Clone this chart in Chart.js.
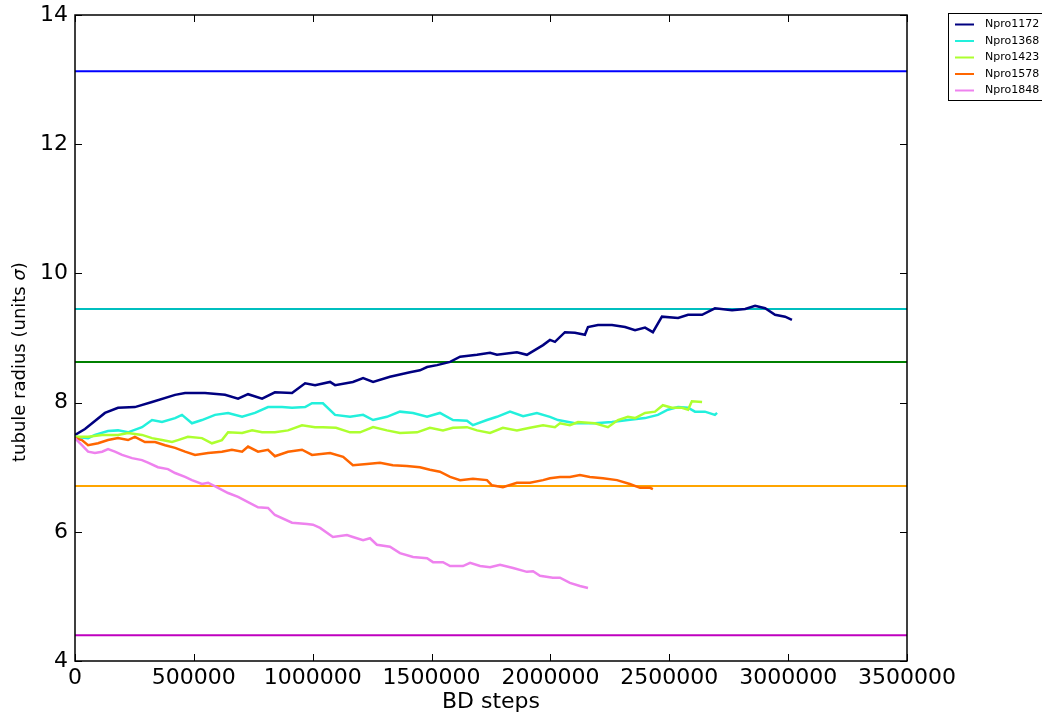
<!DOCTYPE html>
<html>
<head>
<meta charset="utf-8">
<script src="https://cdn.jsdelivr.net/npm/chart.js@4.4.1/dist/chart.umd.min.js"></script>
<style>
  html, body { margin: 0; padding: 0; background: #ffffff; }
  #wrap { width: 1042px; height: 713px; }
</style>
</head>
<body>
<div id="wrap"><canvas id="c" width="1042" height="713"></canvas></div>
<script>
// ---------------- DATA ----------------
const seriesLabels = ["Npro1172", "Npro1368", "Npro1423", "Npro1578", "Npro1848"];

const npro1172Steps = [0, 42000, 126000, 181000, 252000, 324000, 421000, 463000, 547000, 631000, 686000, 728000, 787000, 841000, 913000, 968000, 1010000, 1073000, 1094000, 1169000, 1212000, 1254000, 1325000, 1409000, 1451000, 1481000, 1523000, 1578000, 1620000, 1691000, 1746000, 1775000, 1859000, 1901000, 1969000, 1998000, 2019000, 2061000, 2103000, 2145000, 2158000, 2200000, 2259000, 2314000, 2356000, 2398000, 2431000, 2469000, 2537000, 2579000, 2638000, 2692000, 2764000, 2819000, 2861000, 2903000, 2945000, 2987000, 3016000];
const npro1172Radius = [7.50, 7.59, 7.84, 7.92, 7.93, 8.01, 8.12, 8.15, 8.15, 8.12, 8.06, 8.13, 8.06, 8.16, 8.15, 8.30, 8.27, 8.32, 8.27, 8.32, 8.38, 8.32, 8.40, 8.47, 8.50, 8.55, 8.58, 8.63, 8.71, 8.74, 8.77, 8.74, 8.78, 8.74, 8.89, 8.97, 8.94, 9.09, 9.08, 9.05, 9.17, 9.20, 9.20, 9.17, 9.12, 9.16, 9.09, 9.33, 9.31, 9.36, 9.36, 9.46, 9.43, 9.45, 9.50, 9.46, 9.36, 9.33, 9.28];

const npro1368Steps = [0, 55000, 84000, 139000, 181000, 223000, 282000, 324000, 366000, 421000, 450000, 492000, 534000, 589000, 644000, 703000, 757000, 812000, 871000, 913000, 968000, 997000, 1043000, 1094000, 1157000, 1212000, 1254000, 1312000, 1367000, 1422000, 1481000, 1535000, 1590000, 1649000, 1674000, 1733000, 1775000, 1830000, 1885000, 1943000, 1998000, 2032000, 2103000, 2187000, 2259000, 2326000, 2398000, 2452000, 2494000, 2537000, 2579000, 2608000, 2650000, 2692000, 2701000];
const npro1368Radius = [7.47, 7.45, 7.50, 7.56, 7.57, 7.54, 7.62, 7.73, 7.70, 7.76, 7.81, 7.68, 7.73, 7.81, 7.84, 7.78, 7.84, 7.93, 7.93, 7.92, 7.93, 7.99, 7.99, 7.81, 7.78, 7.81, 7.73, 7.78, 7.86, 7.84, 7.78, 7.84, 7.73, 7.72, 7.65, 7.73, 7.78, 7.86, 7.79, 7.84, 7.78, 7.73, 7.68, 7.68, 7.70, 7.73, 7.76, 7.81, 7.89, 7.93, 7.92, 7.86, 7.86, 7.81, 7.84];

const npro1423Steps = [0, 55000, 114000, 181000, 223000, 282000, 324000, 366000, 408000, 433000, 475000, 534000, 576000, 618000, 644000, 703000, 745000, 787000, 841000, 896000, 955000, 1010000, 1043000, 1098000, 1157000, 1199000, 1254000, 1312000, 1367000, 1439000, 1493000, 1548000, 1590000, 1649000, 1691000, 1746000, 1800000, 1859000, 1914000, 1969000, 2019000, 2040000, 2082000, 2116000, 2187000, 2242000, 2284000, 2326000, 2356000, 2398000, 2440000, 2473000, 2511000, 2553000, 2579000, 2595000, 2638000];
const npro1423Radius = [7.47, 7.47, 7.50, 7.50, 7.53, 7.50, 7.45, 7.42, 7.39, 7.42, 7.47, 7.45, 7.37, 7.42, 7.54, 7.53, 7.57, 7.54, 7.54, 7.57, 7.65, 7.62, 7.62, 7.61, 7.54, 7.54, 7.62, 7.57, 7.53, 7.54, 7.61, 7.57, 7.61, 7.62, 7.57, 7.53, 7.61, 7.57, 7.61, 7.65, 7.62, 7.68, 7.65, 7.70, 7.68, 7.62, 7.73, 7.78, 7.76, 7.84, 7.86, 7.96, 7.92, 7.92, 7.89, 8.02, 8.01];

const npro1578Steps = [0, 29000, 55000, 97000, 139000, 181000, 223000, 252000, 294000, 337000, 379000, 421000, 463000, 505000, 560000, 618000, 660000, 703000, 728000, 770000, 812000, 841000, 896000, 955000, 997000, 1073000, 1128000, 1169000, 1228000, 1283000, 1337000, 1396000, 1451000, 1493000, 1535000, 1578000, 1620000, 1674000, 1733000, 1754000, 1800000, 1859000, 1914000, 1969000, 1998000, 2040000, 2082000, 2124000, 2166000, 2221000, 2280000, 2334000, 2377000, 2419000, 2431000];
const npro1578Radius = [7.45, 7.42, 7.34, 7.37, 7.42, 7.45, 7.42, 7.47, 7.39, 7.39, 7.34, 7.30, 7.24, 7.19, 7.22, 7.24, 7.27, 7.24, 7.32, 7.24, 7.27, 7.17, 7.24, 7.27, 7.19, 7.22, 7.16, 7.03, 7.05, 7.07, 7.03, 7.02, 7.00, 6.96, 6.93, 6.85, 6.80, 6.82, 6.80, 6.72, 6.69, 6.76, 6.76, 6.80, 6.83, 6.85, 6.85, 6.88, 6.85, 6.83, 6.80, 6.74, 6.68, 6.68, 6.66];

const npro1848Steps = [0, 29000, 55000, 84000, 114000, 139000, 168000, 198000, 240000, 282000, 307000, 349000, 391000, 421000, 463000, 492000, 534000, 560000, 602000, 644000, 686000, 728000, 770000, 812000, 841000, 913000, 976000, 1001000, 1031000, 1085000, 1144000, 1169000, 1212000, 1241000, 1270000, 1325000, 1367000, 1422000, 1481000, 1506000, 1548000, 1578000, 1632000, 1662000, 1704000, 1746000, 1788000, 1843000, 1901000, 1927000, 1956000, 2010000, 2040000, 2082000, 2124000, 2158000];
const npro1848Radius = [7.45, 7.34, 7.24, 7.22, 7.24, 7.28, 7.24, 7.19, 7.14, 7.11, 7.07, 7.00, 6.97, 6.91, 6.85, 6.80, 6.74, 6.76, 6.68, 6.60, 6.54, 6.46, 6.38, 6.37, 6.26, 6.14, 6.12, 6.11, 6.06, 5.92, 5.95, 5.92, 5.87, 5.90, 5.80, 5.77, 5.67, 5.61, 5.59, 5.53, 5.53, 5.47, 5.47, 5.52, 5.47, 5.45, 5.49, 5.44, 5.38, 5.39, 5.32, 5.29, 5.29, 5.21, 5.16, 5.13];

// reference (horizontal) radii
const refRadii = [13.13, 9.45, 8.63, 6.71, 4.40];
const refColors = ["#0000ff", "#00bfbf", "#008000", "#ffa500", "#bf00bf"];
const seriesColors = ["#000080", "#22f0dc", "#adff2f", "#ff6600", "#ee82ee"];

// axis ticks and labels
const xTicks = [0, 500000, 1000000, 1500000, 2000000, 2500000, 3000000, 3500000];
const yTicks = [4, 6, 8, 10, 12, 14];
const xLabel = "BD steps";
const yLabelParts = ["tubule radius (units ", "σ", ")"];

// ---------------- BUILD ----------------
const stepArrays = [npro1172Steps, npro1368Steps, npro1423Steps, npro1578Steps, npro1848Steps];
const radiusArrays = [npro1172Radius, npro1368Radius, npro1423Radius, npro1578Radius, npro1848Radius];

const datasets = [];
refRadii.forEach((r, i) => {
  datasets.push({
    label: "ref" + i,
    isRef: true,
    data: [{x: xTicks[0], y: r}, {x: xTicks[xTicks.length - 1], y: r}],
    borderColor: refColors[i],
    borderWidth: 2,
    pointRadius: 0,
    fill: false,
    order: 10
  });
});
seriesLabels.forEach((lab, i) => {
  datasets.push({
    label: lab,
    data: stepArrays[i].map((s, k) => ({x: s, y: radiusArrays[i][k]})),
    borderColor: seriesColors[i],
    borderWidth: 2.5,
    pointRadius: 0,
    tension: 0,
    fill: false,
    order: 5 - i
  });
});

const FONT = "'DejaVu Sans', sans-serif";

const framePlugin = {
  id: 'frame',
  afterDraw(chart) {
    const ctx = chart.ctx;
    const a = chart.chartArea;
    const xs = chart.scales.x, ys = chart.scales.y;
    ctx.save();
    ctx.strokeStyle = '#000';
    ctx.lineWidth = 1.5;
    ctx.strokeRect(a.left, a.top, a.right - a.left, a.bottom - a.top);
    ctx.lineWidth = 1;
    const L = 7;
    xs.ticks.forEach(t => {
      const px = Math.round(xs.getPixelForValue(t.value)) + 0.5;
      ctx.beginPath();
      ctx.moveTo(px, a.bottom); ctx.lineTo(px, a.bottom - L);
      ctx.moveTo(px, a.top); ctx.lineTo(px, a.top + L);
      ctx.stroke();
    });
    ys.ticks.forEach(t => {
      const py = Math.round(ys.getPixelForValue(t.value)) + 0.5;
      ctx.beginPath();
      ctx.moveTo(a.left, py); ctx.lineTo(a.left + L, py);
      ctx.moveTo(a.right, py); ctx.lineTo(a.right - L, py);
      ctx.stroke();
    });

    // y axis label (with italic sigma)
    ctx.save();
    ctx.translate(20, 462);
    ctx.rotate(-Math.PI / 2);
    ctx.fillStyle = '#000';
    ctx.textBaseline = 'middle';
    ctx.textAlign = 'left';
    let xpos = 0;
    yLabelParts.forEach((p, i) => {
      ctx.font = (i === 1 ? 'italic ' : '') + '18px ' + FONT;
      ctx.fillText(p, xpos, 0);
      xpos += ctx.measureText(p).width;
    });
    ctx.restore();

    // legend
    const items = chart.data.datasets.filter(d => !d.isRef);
    const bx = 948.5, by = 13.5, bw = 100, rowH = 16.5;
    const bh = 87;
    ctx.fillStyle = '#fff';
    ctx.fillRect(bx, by, bw, bh);
    ctx.strokeStyle = '#000';
    ctx.lineWidth = 1;
    ctx.strokeRect(bx, by, bw, bh);
    ctx.font = "11px " + FONT;
    ctx.textBaseline = 'middle';
    ctx.textAlign = 'left';
    items.forEach((d, i) => {
      const yy = 24.5 + i * rowH;
      ctx.strokeStyle = d.borderColor;
      ctx.lineWidth = 2;
      ctx.beginPath();
      ctx.moveTo(955, yy); ctx.lineTo(974, yy);
      ctx.stroke();
      ctx.fillStyle = '#000';
      ctx.fillText(d.label, 985, yy);
    });
    ctx.restore();
  }
};

new Chart(document.getElementById('c'), {
  type: 'line',
  data: { datasets },
  plugins: [framePlugin],
  options: {
    responsive: false,
    animation: false,
    devicePixelRatio: 1,
    layout: { padding: { left: 0, top: 15, right: 135, bottom: 0 } },
    plugins: { legend: { display: false }, tooltip: { enabled: false } },
    scales: {
      x: {
        type: 'linear',
        min: xTicks[0], max: xTicks[xTicks.length - 1],
        afterBuildTicks: s => { s.ticks = xTicks.map(v => ({value: v})); },
        afterFit: s => { s.height = 52; s.paddingLeft = 0; s.paddingRight = 0; },
        grid: { display: false, drawTicks: false },
        border: { display: false },
        ticks: {
          color: '#000', padding: 4, maxRotation: 0, autoSkip: false,
          font: { family: FONT, size: 22 },
          callback: v => String(v)
        },
        title: {
          display: true, text: xLabel, color: '#000',
          font: { family: FONT, size: 22, lineHeight: 1 },
          padding: { top: 0, bottom: 0 }
        }
      },
      y: {
        type: 'linear',
        min: yTicks[0], max: yTicks[yTicks.length - 1],
        afterBuildTicks: s => { s.ticks = yTicks.map(v => ({value: v})); },
        afterFit: s => { s.width = 75; s.paddingTop = 0; s.paddingBottom = 0; },
        grid: { display: false, drawTicks: false },
        border: { display: false },
        ticks: {
          color: '#000', padding: 7, autoSkip: false,
          font: { family: FONT, size: 22 },
          callback: v => String(v)
        },
        title: { display: false }
      }
    }
  }
});
</script>
</body>
</html>
